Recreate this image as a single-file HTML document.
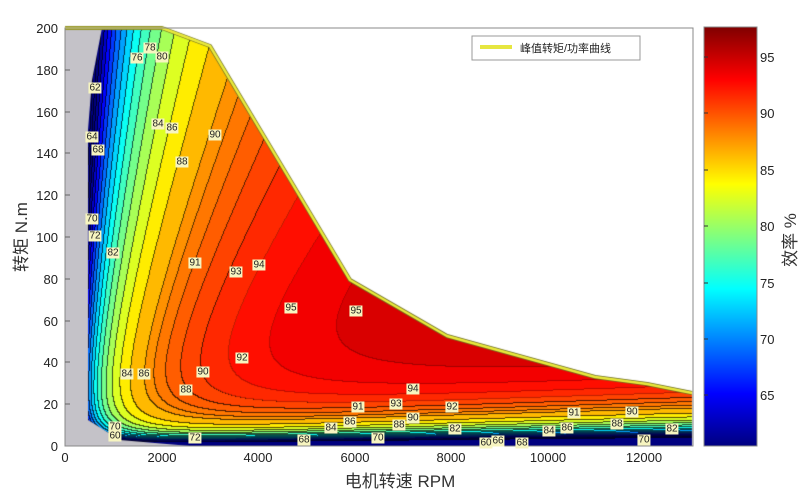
<!DOCTYPE html>
<html><head><meta charset="utf-8"><style>
body{margin:0;background:#fff;width:812px;height:498px;overflow:hidden;position:relative;font-family:"Liberation Sans","Noto Sans CJK SC",sans-serif}
canvas{position:absolute;left:0;top:0}
svg{position:absolute;left:0;top:0}
.lb{position:absolute;background:#f7f5c0;font-size:10px;line-height:11px;padding:0 1px;color:#222;transform:translate(-50%,-50%)}
</style></head><body>
<canvas id="c" width="812" height="498"></canvas>
<svg width="812" height="498" font-family="Liberation Sans, Noto Sans CJK SC, sans-serif">
<defs><linearGradient id="jet" x1="0" y1="0" x2="0" y2="1">
<stop offset="0" stop-color="#800000"/><stop offset="0.125" stop-color="#ff0000"/><stop offset="0.375" stop-color="#ffff00"/><stop offset="0.625" stop-color="#00ffff"/><stop offset="0.875" stop-color="#0000ff"/><stop offset="1" stop-color="#000080"/></linearGradient></defs>
<rect x="65" y="28" width="628" height="418" fill="none" stroke="#888" stroke-width="1"/>
<g font-size="13" fill="#222" text-anchor="end">
<text x="58" y="33">200</text><text x="58" y="75">180</text><text x="58" y="117">160</text><text x="58" y="158">140</text><text x="58" y="200">120</text><text x="58" y="242">100</text><text x="58" y="284">80</text><text x="58" y="326">60</text><text x="58" y="367">40</text><text x="58" y="409">20</text><text x="58" y="451">0</text>
</g>
<g stroke="#666"><line x1="65" y1="70" x2="70" y2="70"/><line x1="65" y1="112" x2="70" y2="112"/><line x1="65" y1="153" x2="70" y2="153"/><line x1="65" y1="195" x2="70" y2="195"/><line x1="65" y1="237" x2="70" y2="237"/><line x1="65" y1="279" x2="70" y2="279"/><line x1="65" y1="321" x2="70" y2="321"/><line x1="65" y1="362" x2="70" y2="362"/><line x1="65" y1="404" x2="70" y2="404"/></g>
<g font-size="13" fill="#222" text-anchor="middle">
<text x="65" y="462">0</text><text x="162" y="462">2000</text><text x="258" y="462">4000</text><text x="355" y="462">6000</text><text x="451" y="462">8000</text><text x="548" y="462">10000</text><text x="644" y="462">12000</text>
</g>
<text x="400" y="487" font-size="17" fill="#333" text-anchor="middle">电机转速 RPM</text>
<text transform="translate(27,237) rotate(-90)" font-size="17" fill="#333" text-anchor="middle">转矩 N.m</text>
<rect x="704" y="27" width="53" height="419" fill="url(#jet)" stroke="#888"/>
<g stroke="#333"><line x1="704" y1="57" x2="708" y2="57"/><line x1="704" y1="113" x2="708" y2="113"/><line x1="704" y1="170" x2="708" y2="170"/><line x1="704" y1="226" x2="708" y2="226"/><line x1="704" y1="283" x2="708" y2="283"/><line x1="704" y1="339" x2="708" y2="339"/><line x1="704" y1="395" x2="708" y2="395"/></g>
<g font-size="13" fill="#222"><text x="760" y="62">95</text><text x="760" y="118">90</text><text x="760" y="175">85</text><text x="760" y="231">80</text><text x="760" y="288">75</text><text x="760" y="344">70</text><text x="760" y="400">65</text></g>
<text transform="translate(796,240) rotate(-90)" font-size="17" fill="#333" text-anchor="middle">效率 %</text>
<rect x="472" y="36" width="168" height="24" fill="#fff" stroke="#999"/>
<line x1="480" y1="47" x2="512" y2="47" stroke="#e6e640" stroke-width="4"/>
<text x="520" y="52" font-size="11" fill="#222">峰值转矩/功率曲线</text>
</svg>
<div id="labels"></div>
<script>
const c=document.getElementById('c'),ctx=c.getContext('2d');
const W=628,H=418,X0=65,Y0=28;
const off=document.createElement('canvas');off.width=W;off.height=H;const oc=off.getContext('2d');
const img=oc.createImageData(W,H);
const levels=[56,58,60,62,64,66,68,70,72,74,76,78,80,82,84,86,88,89,90,91,92,93,94,95,96,97,98];
function eta(n,T){const P=n*Math.PI/30*T;const iron=300*Math.pow(n/6000,1.8)*(1+3*Math.exp(-T/25));const L=10.6*T+0.204*T*T+iron+150;return P<=0?50:100*P/(P+L);}
function band(e){let i=0;while(i<levels.length&&levels[i]<=e)i++;return i;}
function cl(v){return Math.max(0,Math.min(1,v));}
function jet(t){return [cl(1.5-Math.abs(4*t-3)),cl(1.5-Math.abs(4*t-2)),cl(1.5-Math.abs(4*t-1))];}
const B=[];
for(let y=0;y<H;y++){B[y]=[];for(let x=0;x<W;x++){const n=x/W*13000,T=(H-y)/H*200;B[y][x]=band(eta(n,T));}}
for(let y=0;y<H;y++)for(let x=0;x<W;x++){const b=B[y][x];const lo=b>0?levels[b-1]:55,hi=b<levels.length?levels[b]:98.5;let v=(lo+hi)/2;let t=(v-60)/38.9;let col=jet(cl(t));
let line=(x+1<W&&B[y][x+1]!=b)||(y+1<H&&B[y+1][x]!=b);const k=(y*W+x)*4;
const m=line?(v>92?190:80):255;img.data[k]=col[0]*m;img.data[k+1]=col[1]*m;img.data[k+2]=col[2]*m;img.data[k+3]=255;}
oc.putImageData(img,0,0);
const poly=[[65,28],[162,28],[210,46],[350,280],[447,336],[595,377],[647,384],[692,393],[692,446],[65,446]];
ctx.save();ctx.beginPath();poly.forEach((p,i)=>i?ctx.lineTo(p[0],p[1]):ctx.moveTo(p[0],p[1]));ctx.closePath();ctx.clip();
ctx.drawImage(off,X0,Y0);
ctx.fillStyle='#c4c2c8';ctx.beginPath();ctx.moveTo(65,28);ctx.lineTo(102,28);ctx.lineTo(92,80);ctx.lineTo(88,130);ctx.lineTo(88,420);ctx.lineTo(120,440);ctx.lineTo(190,446);ctx.lineTo(65,446);ctx.closePath();ctx.fill();
ctx.restore();
ctx.lineJoin='round';
ctx.beginPath();poly.slice(0,8).forEach((p,i)=>i?ctx.lineTo(p[0],p[1]):ctx.moveTo(p[0],p[1]));
ctx.strokeStyle='#6b6b20';ctx.lineWidth=4;ctx.stroke();ctx.strokeStyle='#eaea3c';ctx.lineWidth=2.5;ctx.stroke();
const L=[["76",137,58],["78",150,48],["80",162,57],["62",95,88],["64",92,137],["68",98,150],["84",158,124],["86",172,128],["88",182,162],["90",215,135],["70",92,219],["72",95,236],["82",113,253],["91",195,263],["93",236,272],["94",259,265],["95",291,308],["95",356,311],["92",242,358],["90",203,372],["88",186,390],["86",144,374],["84",127,374],["94",413,389],["93",396,404],["91",358,407],["92",452,407],["90",413,418],["88",399,425],["86",350,422],["84",331,428],["91",574,413],["90",632,412],["88",617,424],["86",567,428],["84",549,431],["68",304,440],["70",378,438],["72",195,438],["70",115,427],["60",115,436],["66",498,441],["60",486,443],["68",522,443],["82",455,429],["70",644,440],["82",672,429]];
document.getElementById('labels').innerHTML=L.map(l=>`<div class="lb" style="left:${l[1]}px;top:${l[2]}px">${l[0]}</div>`).join('');
</script>
</body></html>
